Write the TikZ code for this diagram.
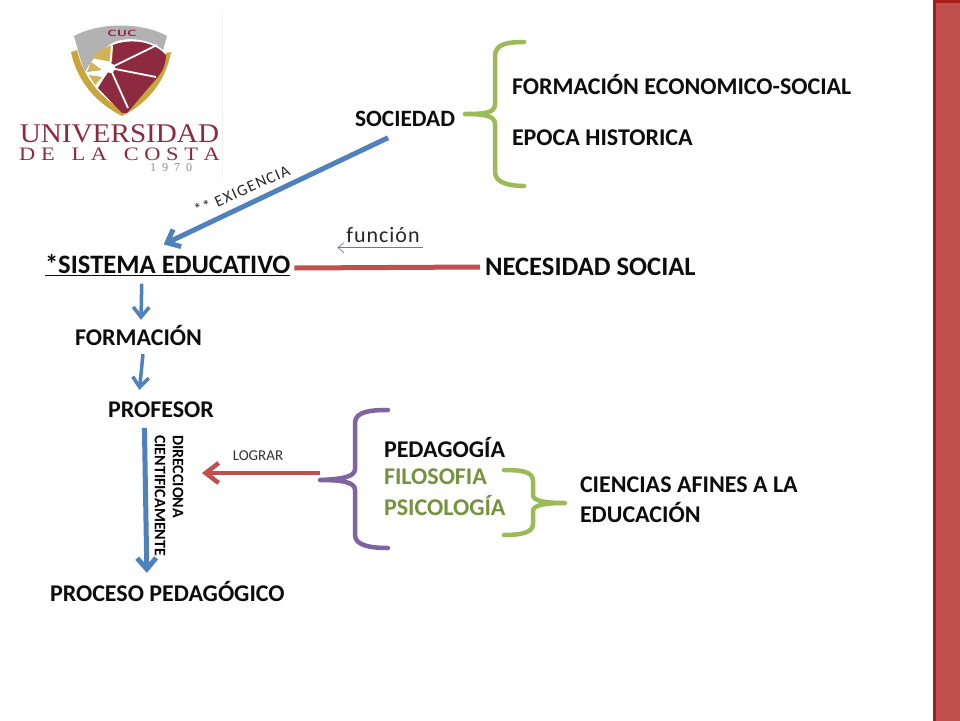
\documentclass[tikz,border=0pt]{standalone}
\usepackage{fontspec}
\setmainfont{Carlito}
\newfontfamily\logofont{Liberation Serif}
\usetikzlibrary{arrows.meta,positioning}
\definecolor{azul}{HTML}{4F81BD}
\definecolor{rojo}{HTML}{C0504D}
\definecolor{morado}{HTML}{8064A2}
\definecolor{verde}{HTML}{9BBB59}
\definecolor{verdeosc}{HTML}{76923C}
\definecolor{borde}{HTML}{A81C1C}
\definecolor{vino}{HTML}{8E2A3F}
\definecolor{oro}{HTML}{C9A63C}
\newcommand{\fsz}[1]{\fontsize{#1}{#1}\selectfont}
\newcommand{\fszl}[2]{\fontsize{#1}{#2}\selectfont}
\begin{document}
\begin{tikzpicture}[x=1pt, y=-1pt, inner sep=0pt, outer sep=0pt,
                    main/.style = {font=\bfseries\fsz{24}, anchor=west, text=black!95},
                    big/.style = {main, font=\bfseries\fsz{26.6}},
                    small/.style = {font=\fsz{15}, text=black!80},
                    bluearrow/.style = {draw=azul, line width=3.5pt, -{Straight Barb[length=10pt,width=16pt]}},
                    bigarrow/.style = {draw=azul, line width=5pt, -{Straight Barb[length=11pt,width=19pt]}},
                    redarrow/.style = {draw=rojo, line width=4.5pt, -{Straight Barb[length=13pt,width=20pt]}},
                    bracket/.style = {line width=4.5pt, line cap=round, line join=round}]
\useasboundingbox (0,0) rectangle (960,720);
\fill[white] (0,0) rectangle (960,720);
\draw[borde, line width=3pt, fill=rojo] (934.5,1.5) rectangle (964,725);
\draw[black!6, line width=0.7pt] (222,10) -- (222,178);
\fill[oro] (71,52) .. controls (78,85) and (100,105) .. (122,116) .. controls (144,105) and (165,85) .. (171,52) -- (166,53) .. controls (160,80) and (142,98) .. (122,110) .. controls (102,98) and (84,80) .. (77,50) -- cycle;
\fill[black!30] (74,36) .. controls (100,22) and (142,22) .. (167,36) -- (163,50) .. controls (150,38) and (120,35) .. (108,46) .. controls (98,52) and (90,62) .. (85,72) -- (80,58) -- cycle;
\fill[vino] (113,45) .. controls (125,40) and (150,38) .. (166,55) .. controls (166,65) and (162,72) .. (157,78) -- (127,113) -- (122,113) -- (98,88) -- (110,68) -- cycle;
\fill[oro!85!white] (113,45) -- (112,62) -- (92,58) .. controls (97,52) and (105,47) .. (113,45) -- cycle;
\fill[oro!85!white] (91,62) -- (102,70) -- (87,72) -- cycle;
\fill[oro!85!white] (89,75) -- (102,77) -- (95,85) -- cycle;
\draw[white, line width=1.8pt] (110,68) -- (157,45) (110,68) -- (156,77) (110,68) -- (128,108) (110,68) -- (97,86) (110,68) -- (112,46);
\fill[white] (110,68) circle (5);
\node[font=\sffamily\bfseries\fsz{9}, text=vino, xscale=1.5] (cuc) at (122,33) {CUC};
\node[font=\logofont\fsz{27}, text=vino, xscale=1.08] (univ) at (119.5,134) {UNIVERSIDAD};
\node[font=\logofont\fsz{19}, text=vino, xscale=1.18] (costa) at (119.5,154) {D E\ \ \ L A\ \ \ C O S T A};
\node[font=\logofont\fsz{12}, text=black!45] (anio) at (171,168) {1\ \ 9\ \ 7\ \ 0};
\node[main, font=\bfseries\fsz{23.4}] (soc) at (355,119) {SOCIEDAD};
\node[main] (fes) at (512,85) {FORMACIÓN ECONOMICO-SOCIAL};
\node[main] (epo) at (512,138) {EPOCA HISTORICA};
\node[big] (sis) at (45,265) {\underline{*SISTEMA EDUCATIVO}};
\node[big] (nec) at (485,267) {NECESIDAD SOCIAL};
\node[main] (for) at (75,335) {FORMACIÓN};
\node[main] (pro) at (108,410) {PROFESOR};
\node[main] (pep) at (50,591) {PROCESO PEDAGÓGICO};
\node[main] (ped) at (384,447) {PEDAGOGÍA};
\node[main, text=verdeosc] (fil) at (384,477) {FILOSOFIA};
\node[main, text=verdeosc] (psi) at (384,505) {PSICOLOGÍA};
\node[main, align=left, font=\bfseries\fszl{24}{30}] (cie) at (580,500) {CIENCIAS AFINES A LA\\EDUCACIÓN};
\node[font=\fsz{16}\addfontfeature{LetterSpace=8}, rotate=24, text=black!85] (exi) at (242,190) {** EXIGENCIA};
\node[font=\fsz{22}\addfontfeature{LetterSpace=4.5}, text=black!85] (fun) at (383,235) {función};
\node[small] (log) at (258,456) {LOGRAR};
\node[font=\bfseries\fszl{16}{18}, rotate=-90, anchor=west, align=left, text=black] (dir) at (169,435) {DIRECCIONA\\CIENTIFICAMENTE};
\draw[bigarrow] ([xshift=-17pt,yshift=-11pt]soc.south) -- ([xshift=-4pt,yshift=10pt]sis.north);
\draw[bluearrow] ([xshift=-26pt,yshift=-8pt]sis.south) -- ([xshift=2.5pt,yshift=5pt]for.north);
\draw[bluearrow] ([xshift=4.5pt,yshift=-9pt]for.south) -- ([xshift=-21.5pt,yshift=12pt]pro.north);
\draw[bigarrow] ([xshift=-16.5pt,yshift=-10pt]pro.south) -- ([xshift=-20.5pt,yshift=8pt]pep.north);
\draw[rojo, line width=5pt] ([xshift=4pt,yshift=-3pt]sis.east) -- ([xshift=-5pt]nec.west);
\draw[azul, line width=0.7pt, -{Straight Barb[length=6pt,width=10pt]}] ([xshift=3pt,yshift=-5pt]fun.south east) -- ([xshift=-9pt,yshift=-5pt]fun.south west);
\coordinate (lini) at (320,473);
\coordinate (lfin) at (202,473);
\draw[redarrow] (lini) -- (lfin);
\draw[bracket, verde] (524,42) .. controls (510,42) and (495,43) .. (495,56) -- (495,104) .. controls (495,113) and (485,114) .. (465,114) .. controls (485,114) and (495,116) .. (495,124) -- (495,172) .. controls (495,183) and (510,186) .. (524,186);
\draw[bracket, morado] (388,410) .. controls (372,410) and (355,411) .. (355,423) -- (355,469) .. controls (355,477) and (342,479) .. (320,480) .. controls (342,480) and (355,482) .. (355,490) -- (355,535) .. controls (355,546) and (372,548) .. (388,548);
\draw[bracket, verde] (504,470) .. controls (520,470) and (533,471) .. (533,481) -- (533,495) .. controls (533,501) and (545,503) .. (565,503) .. controls (545,503) and (533,505) .. (533,511) -- (533,524) .. controls (533,533) and (520,535) .. (504,535);
\end{tikzpicture}
\end{document}
